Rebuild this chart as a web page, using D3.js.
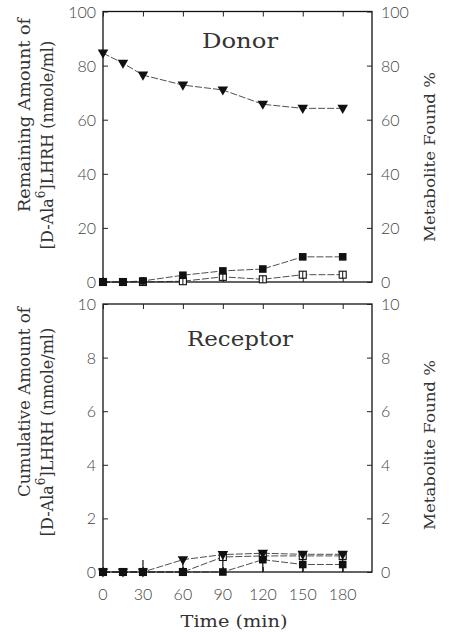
<!DOCTYPE html>
<html>
<head>
<meta charset="utf-8">
<script src="https://cdn.jsdelivr.net/npm/d3@7"></script>
<style>
  body { margin: 0; background: #fff; }
  .tick-num { font-family: Lato, "DejaVu Sans", sans-serif; font-weight: 300; font-size: 16px; fill: #444; }
  .serif { font-family: "DejaVu Serif", "Liberation Serif", serif; fill: #333; }
</style>
</head>
<body>
<div id="chart"></div>
<script>
const width = 451
const height = 632

// time points (min)
const times = [0, 15, 30, 60, 90, 120, 150, 180]
const xTicks = [0, 30, 60, 90, 120, 150, 180]

// Donor panel
const donorTri = [84.6, 80.9, 76.5, 72.8, 71.0, 65.7, 64.2, 64.2]
const donorFilled = [0, 0, 0.4, 2.5, 4.1, 4.8, 9.3, 9.3]
const donorOpen = [0, 0, 0, 0.3, 1.9, 1.0, 2.7, 2.7]
const donorTicks = [0, 20, 40, 60, 80, 100]

// Receptor panel
const recTri = [0, 0, 0, 0.46, 0.65, 0.7, 0.66, 0.66]
const recOpen = [0, 0, 0, 0, 0.56, 0.6, 0.6, 0.6]
const recFilled = [0, 0, 0, 0, 0, 0.46, 0.28, 0.28]
const recErrLow = [0, 0, 0, 0, 0, 0, 0, 0]
const recErrHigh = [0, 0, 0.45, 0.46, 0.65, 0.7, 0.66, 0.66]
const recTicks = [0, 2, 4, 6, 8, 10]

const svg = d3.select("#chart")
  .append("svg")
  .attr("width", width)
  .attr("height", height)

const x = d3.scaleLinear().domain([0, 202]).range([103, 372])

function drawPanel(cfg) {
  const y = d3.scaleLinear().domain([0, cfg.max]).range([cfg.bottom, cfg.top])
  const g = svg.append("g")

  // frame
  g.append("rect")
    .attr("x", x(0)).attr("y", y(cfg.max))
    .attr("width", x(202) - x(0)).attr("height", y(0) - y(cfg.max))
    .attr("fill", "none").attr("stroke", "#111").attr("stroke-width", 1.3)

  // inward ticks
  g.append("g").attr("transform", "translate(" + x(0) + ",0)")
    .call(d3.axisRight(y).tickValues(cfg.ticks).tickSize(5).tickFormat(""))
    .call(a => a.select(".domain").remove())
  g.append("g").attr("transform", "translate(" + x(202) + ",0)")
    .call(d3.axisLeft(y).tickValues(cfg.ticks).tickSize(5).tickFormat(""))
    .call(a => a.select(".domain").remove())
  g.append("g").attr("transform", "translate(0," + y(cfg.max) + ")")
    .call(d3.axisBottom(x).tickValues(xTicks).tickSize(5).tickFormat(""))
    .call(a => a.select(".domain").remove())
  g.append("g").attr("transform", "translate(0," + y(0) + ")")
    .call(d3.axisTop(x).tickValues(xTicks).tickSize(5).tickFormat(""))
    .call(a => a.select(".domain").remove())
  g.selectAll(".tick line").attr("stroke", "#222")

  // tick labels left and right
  g.selectAll(".lnum").data(cfg.ticks).enter().append("text")
    .attr("class", "tick-num")
    .attr("x", 96).attr("y", d => y(d) + 6)
    .attr("text-anchor", "end")
    .text(d => d)
  g.selectAll(".rnum").data(cfg.ticks).enter().append("text")
    .attr("class", "tick-num")
    .attr("x", 381).attr("y", d => y(d) + 6)
    .text(d => d)

  // error bars
  if (cfg.errHigh) {
    g.selectAll(".err").data(times).enter().append("line")
      .attr("x1", d => x(d)).attr("x2", d => x(d))
      .attr("y1", (d, i) => y(cfg.errLow[i])).attr("y2", (d, i) => y(cfg.errHigh[i]))
      .attr("stroke", "#111").attr("stroke-width", 1.2)
  }

  const line = d3.line().x((d, i) => x(times[i])).y(d => y(d))
  const series = [cfg.open, cfg.filled, cfg.tri]
  series.forEach(s => {
    g.append("path").datum(s)
      .attr("d", line)
      .attr("fill", "none").attr("stroke", "#222")
      .attr("stroke-width", 0.8).attr("stroke-dasharray", "7,2")
  })

  // open squares
  g.selectAll(".open").data(cfg.open).enter().append("rect")
    .attr("x", (d, i) => x(times[i]) - 3.5).attr("y", d => y(d) - 3.5)
    .attr("width", 7).attr("height", 7)
    .attr("fill", "#fff").attr("stroke", "#111").attr("stroke-width", 1.1)
  g.selectAll(".openbar").data(cfg.open).enter().append("line")
    .attr("x1", (d, i) => x(times[i])).attr("x2", (d, i) => x(times[i]))
    .attr("y1", d => y(d) - 3.5).attr("y2", d => y(d) + 3.5)
    .attr("stroke", "#111").attr("stroke-width", 1)

  // filled squares
  g.selectAll(".filled").data(cfg.filled).enter().append("rect")
    .attr("x", (d, i) => x(times[i]) - 3.8).attr("y", d => y(d) - 3.8)
    .attr("width", 7.6).attr("height", 7.6)
    .attr("fill", "#111")

  // filled down triangles
  const tri = d3.symbol().type(d3.symbolTriangle).size(48)
  g.selectAll(".tri").data(cfg.tri).enter().append("path")
    .attr("d", tri)
    .attr("transform", (d, i) => "translate(" + x(times[i]) + "," + (y(d) - 0.5) + ") rotate(180)")
    .attr("fill", "#111")

  // panel title
  g.append("text").attr("class", "serif")
    .attr("x", cfg.titleX).attr("y", cfg.titleY)
    .attr("text-anchor", "middle").attr("font-size", 21)
    .attr("textLength", cfg.titleLen).attr("lengthAdjust", "spacingAndGlyphs")
    .text(cfg.title)

  // left axis title, two lines
  g.append("text").attr("class", "serif")
    .attr("transform", "translate(30," + cfg.l1c + ") rotate(-90)")
    .attr("text-anchor", "middle").attr("font-size", 17)
    .attr("textLength", cfg.l1len).attr("lengthAdjust", "spacingAndGlyphs")
    .text(cfg.line1)
  const t2 = g.append("text").attr("class", "serif")
    .attr("transform", "translate(53," + cfg.l2c + ") rotate(-90)")
    .attr("text-anchor", "middle").attr("font-size", 16)
  t2.append("tspan").text("[D-Ala")
  t2.append("tspan").attr("dy", -8).attr("font-size", 12).text("6")
  t2.append("tspan").attr("dy", 8).text("]LHRH (nmole/ml)")

  // right axis title
  g.append("text").attr("class", "serif")
    .attr("transform", "translate(435," + cfg.rc + ") rotate(-90)")
    .attr("text-anchor", "middle").attr("font-size", 15)
    .attr("textLength", 170).attr("lengthAdjust", "spacingAndGlyphs")
    .text("Metabolite Found %")

  return y
}

drawPanel({
  max: 100, top: 11.5, bottom: 282, ticks: donorTicks,
  tri: donorTri, filled: donorFilled, open: donorOpen,
  title: "Donor", titleX: 240, titleY: 48, titleLen: 76,
  line1: "Remaining Amount of", l1c: 115, l1len: 194, l2c: 145, rc: 157
})

drawPanel({
  max: 10, top: 304, bottom: 572, ticks: recTicks,
  tri: recTri, filled: recFilled, open: recOpen,
  errLow: recErrLow, errHigh: recErrHigh,
  title: "Receptor", titleX: 240, titleY: 346, titleLen: 106,
  line1: "Cumulative Amount of", l1c: 402, l1len: 190, l2c: 432, rc: 445
})

// x axis labels
svg.selectAll(".xnum").data(xTicks).enter().append("text")
  .attr("class", "tick-num")
  .attr("x", d => x(d)).attr("y", 600)
  .attr("text-anchor", "middle").attr("font-size", 17)
  .text(d => d)

svg.append("text").attr("class", "serif")
  .attr("x", 234).attr("y", 627)
  .attr("text-anchor", "middle").attr("font-size", 17)
  .attr("textLength", 107).attr("lengthAdjust", "spacingAndGlyphs")
  .text("Time (min)")
</script>
</body>
</html>
